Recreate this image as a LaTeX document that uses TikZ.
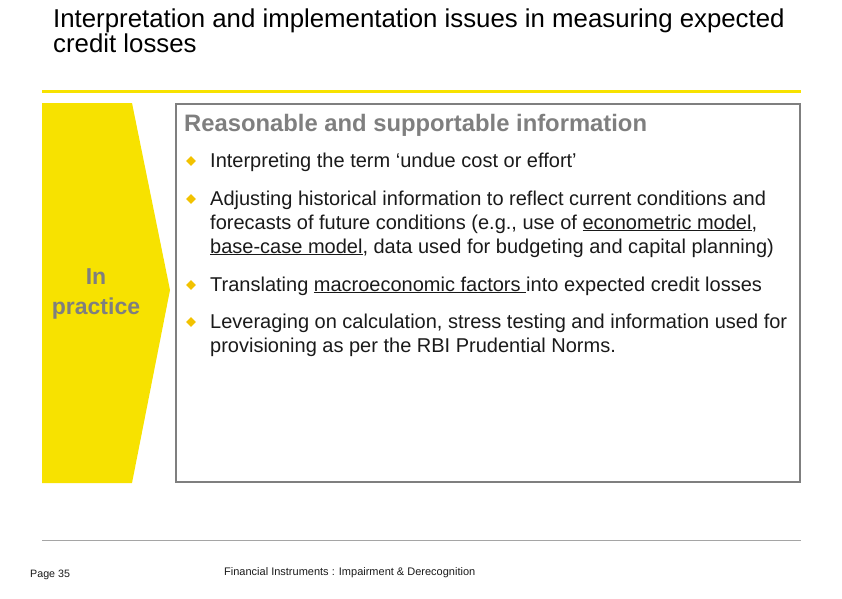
\documentclass[tikz,border=0pt]{standalone}
\usepackage{fontspec}
\setmainfont{Liberation Sans}
\usetikzlibrary{shapes.geometric}
\definecolor{eyY}{HTML}{F7E200}
\definecolor{bul}{HTML}{F2C200}
\definecolor{txt}{HTML}{1A1A1A}
\definecolor{gr}{HTML}{7F7F7F}
\begin{document}
\begin{tikzpicture}[x=1pt,y=-1pt,
  ln/.style={anchor=base west,inner sep=0pt,font=\fontsize{20}{24}\selectfont,text=txt},
  bulletmark/.style={fill=bul,shape=diamond,inner sep=0pt,minimum size=10pt}]
\useasboundingbox (0,0) rectangle (842,598);
\node[anchor=base west,inner sep=0pt,align=left,font=\fontsize{25.8}{25}\selectfont,text=black] (title) at (53,52) {Interpretation and implementation issues in measuring expected\\credit losses};
\draw[eyY,line width=3pt] (42,91) -- (801,91);
\fill[eyY] (42,103) -- (132,103) -- (170,290) -- (132,483) -- (42,483) -- cycle;
\node[align=center,font=\fontsize{23}{30}\selectfont\bfseries,text=gr] (prac) at (96,294) {In\\practice};
\draw[gr,line width=2.5pt] (176,104) rectangle (800,482);
\node[anchor=base west,inner sep=0pt,font=\fontsize{23.8}{28}\selectfont\bfseries,text=gr] (head) at (184,131) {Reasonable and supportable information};
\foreach \y [count=\i] in {160,198,284,321} {\node[bulletmark] (b\i) at (191,\y+1) {};}
\node[ln] (l1) at (210,167) {Interpreting the term ‘undue cost or effort’};
\node[ln] (l2) at (210,205) {Adjusting historical information to reflect current conditions and};
\node[ln] (l3) at (210,229) {forecasts of future conditions (e.g., use of \underline{econometric model},};
\node[ln] (l4) at (210,253) {\underline{base-case model}, data used for budgeting and capital planning)};
\node[ln] (l5) at (210,291) {Translating \underline{macroeconomic factors }into expected credit losses};
\node[ln] (l6) at (210,328) {Leveraging on calculation, stress testing and information used for};
\node[ln] (l7) at (210,352) {provisioning as per the RBI Prudential Norms.};
\draw[gr!70,line width=0.6pt] (42,540) -- (801,540);
\node[anchor=base west,inner sep=0pt,font=\fontsize{10.7}{12}\selectfont,text=txt] (page) at (30,577) {Page 35};
\node[anchor=base west,inner sep=0pt,font=\fontsize{11}{13}\selectfont,text=txt] (foot) at (224,575) {Financial Instruments : Impairment \& Derecognition};
\end{tikzpicture}
\end{document}
